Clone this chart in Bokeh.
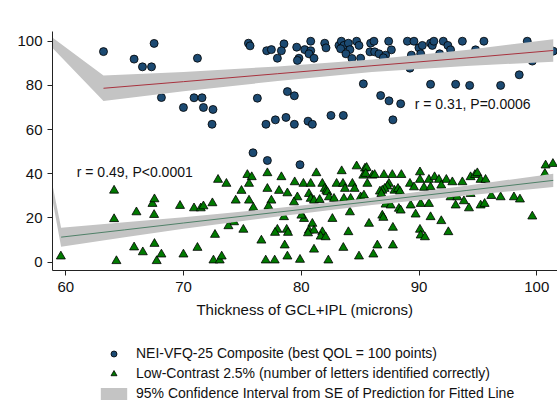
from bokeh.plotting import figure
from bokeh.layouts import column
from bokeh.models import Range1d, FixedTicker, Legend, LegendItem, Label
from bokeh.embed import file_html
from bokeh.resources import INLINE

FONT = "Liberation Sans"

# ---- data ----
vfq_x = [63.20, 65.80, 66.51, 67.28, 67.50, 71.18, 68.12, 69.99, 70.89, 71.57,
         75.51, 75.65, 77.06, 77.46, 78.53, 78.31, 77.97, 79.61, 80.80, 80.29,
         80.80, 80.65, 79.80, 79.67, 81.08, 81.99, 82.10, 83.20, 83.40, 83.62,
         83.34, 84.00, 84.13, 83.79, 84.30, 84.70, 84.90, 85.04, 85.89, 86.17,
         85.83, 86.23, 85.27, 86.74, 71.69, 72.50, 72.42, 76.27, 78.82, 79.41,
         77.00, 77.80, 78.70, 79.41, 80.57, 80.94, 82.52, 83.57, 87.42, 87.65,
         86.60, 87.16, 86.97, 89.01, 89.57, 89.99, 90.28, 90.14, 89.35, 90.98,
         91.13, 91.26, 92.06, 92.45, 92.68, 91.75, 93.68, 94.80, 95.51, 99.19,
         101.40, 99.62, 98.51, 96.93, 94.30, 93.11, 90.98, 87.45, 88.44, 87.78,
         89.23, 75.90, 77.12, 79.89]
vfq_y = [95.3, 91.9, 88.4, 88.4, 99.0, 92.3, 74.5, 70.0, 74.4, 74.4,
         99.1, 97.9, 95.7, 96.2, 98.8, 95.7, 92.3, 97.3, 100.0, 96.2,
         95.7, 94.3, 92.3, 91.3, 92.3, 99.1, 97.0, 98.1, 100.0, 98.1,
         96.6, 99.1, 96.2, 94.3, 92.2, 100.0, 98.1, 92.3, 99.1, 100.0,
         95.2, 95.2, 80.7, 75.4, 70.0, 69.1, 62.4, 74.2, 77.2, 75.3,
         62.4, 64.4, 65.5, 62.4, 63.8, 62.4, 66.4, 66.4, 100.0, 96.1,
         94.3, 93.7, 92.5, 100.0, 100.0, 97.0, 98.1, 94.3, 93.7, 99.1,
         98.1, 100.0, 100.0, 98.1, 96.1, 94.3, 100.0, 96.1, 100.0, 100.0,
         95.5, 91.0, 84.8, 80.0, 80.0, 80.5, 80.5, 73.0, 71.7, 64.4,
         87.8, 49.5, 46.0, 44.1]

lc_x = [59.58, 64.10, 64.10, 64.30, 66.00, 67.36, 67.53, 67.50, 65.80, 66.54,
        67.53, 67.72, 68.12, 69.70, 70.89, 71.46, 69.99, 71.18, 72.93, 73.64,
        74.92, 75.42, 75.79, 75.56, 77.12, 77.12, 78.31, 78.11, 78.82, 79.44,
        80.18, 80.80, 81.28, 81.79, 81.99, 82.13, 83.43, 83.00, 83.54, 83.71,
        84.34, 84.53, 84.70, 85.41, 85.27, 86.04, 85.61, 82.22, 80.65, 80.80,
        79.67, 79.38, 81.08, 81.56, 82.35, 82.78, 83.62, 84.19, 85.04, 74.43,
        75.56, 75.93, 77.46, 77.21, 71.69, 72.45, 74.29, 73.81, 75.08, 72.67,
        76.61, 77.97, 77.77, 78.76, 78.87, 78.53, 80.23, 80.94, 80.65, 81.08,
        80.57, 81.79, 81.65, 82.07, 82.64, 84.00, 84.13, 85.75, 86.46, 83.57,
        81.08, 78.59, 78.82, 79.89, 76.98, 77.74, 72.54, 73.07, 73.24, 82.30,
        84.90, 86.12, 80.01,
        85.55, 85.47, 86.23, 87.02, 87.73, 88.50, 87.44, 87.31, 87.08, 86.88,
        85.32, 86.68, 86.80, 87.91, 88.21, 88.38,
        94.38, 94.75, 94.95, 95.23, 95.65, 100.75, 101.37, 100.69, 90.08, 89.23,
        90.08, 90.84, 91.32, 91.69, 92.32, 92.83, 93.68, 89.57, 90.42, 90.98,
        91.89, 92.68, 93.25, 93.81, 94.38, 96.14, 96.93, 98.06, 98.57, 87.16,
        87.59, 88.29, 89.29, 90.14, 90.84, 93.11, 94.24, 95.23, 95.57, 86.88,
        89.71, 90.98, 91.89, 99.62, 87.78, 90.08, 90.14, 90.50, 92.49, 87.78,
        86.97, 88.44]
lc_y = [2.6, 32.4, 19.5, 0.5, 22.6, 26.4, 28.5, 21.4, 6.7, 4.5,
        8.3, 0.5, 3.5, 25.5, 24.4, 24.4, 3.5, 6.5, 37.3, 35.5,
        32.3, 39.5, 38.5, 35.5, 40.3, 33.2, 38.5, 32.3, 31.2, 36.2,
        35.5, 35.5, 40.3, 35.5, 33.2, 32.3, 41.2, 35.5, 35.5, 33.2,
        35.5, 33.2, 43.4, 42.4, 39.2, 39.2, 35.5, 31.7, 30.9, 28.7,
        29.4, 27.1, 27.9, 28.2, 29.4, 28.7, 28.7, 28.7, 29.4, 27.9,
        27.9, 24.6, 27.9, 25.2, 25.3, 26.7, 18.1, 16.3, 14.7, 12.4,
        9.8, 14.7, 13.3, 14.7, 13.3, 20.4, 19.6, 17.4, 14.3, 14.3,
        13.1, 13.6, 11.6, 11.3, 19.6, 13.6, 22.6, 17.4, 7.6, 6.5,
        5.7, 7.6, 2.6, 1.1, 0.8, 0.8, 0.8, 0.8, 2.6, 0.8,
        2.6, 3.5, 21.1,
        42.7, 40.0, 39.5, 39.5, 39.5, 39.5, 35.5, 34.3, 33.2, 32.4,
        30.2, 32.0, 30.9, 32.4, 33.2, 32.0,
        38.5, 39.5, 40.3, 37.3, 37.3, 43.8, 44.5, 40.0, 40.7, 35.5,
        37.3, 37.3, 38.5, 37.3, 37.3, 36.2, 36.2, 33.9, 33.7, 33.9,
        34.7, 29.4, 29.4, 27.6, 30.9, 30.0, 29.4, 29.4, 28.4, 26.1,
        25.7, 24.2, 25.7, 26.4, 26.4, 25.7, 24.4, 25.7, 26.4, 21.1,
        21.6, 20.4, 18.6, 20.7, 15.6, 14.7, 12.1, 11.3, 13.6, 7.6,
        20.1, 23.4]

# fitted lines
vfq_fit_x = [63.2, 70, 78, 86, 94, 101.4]
vfq_fit_y = [78.7, 81.7, 85.3, 88.9, 92.4, 95.8]
lc_fit_x = [59.6, 65, 70, 78, 86, 94, 101.4]
lc_fit_y = [11.3, 14.6, 17.7, 22.6, 27.5, 32.4, 37.0]

# confidence bands (first point: the stray vertex drawn in the original)
vfq_band_x = [55.9, 63.2, 70, 78, 86, 94, 101.4]
vfq_band_lo = [113.4, 72.9, 77.3, 82.0, 86.1, 88.8, 90.7]
vfq_band_hi = [113.4, 84.5, 86.1, 88.6, 91.7, 96.0, 100.9]
lc_band_x = [55.9, 59.6, 65, 70, 78, 86, 94, 101.4]
lc_band_lo = [113.4, 7.0, 11.2, 15.1, 20.7, 25.85, 30.2, 33.95]
lc_band_hi = [113.4, 15.6, 18.0, 20.3, 24.5, 29.15, 34.6, 40.05]

x_ticks = [60, 70, 80, 90, 100]
y_ticks = [0, 20, 40, 60, 80, 100]

ann_x = [89.63, 60.93]
ann_y = [71.8, 40.7]
ann_text = ["r = 0.31, P=0.0006", "r = 0.49, P<0.0001"]

labels = ["NEI-VFQ-25 Composite (best QOL = 100 points)",
          "Low-Contrast 2.5% (number of letters identified correctly)",
          "95% Confidence Interval from SE of Prediction for Fitted Line"]

BAND = "#c4c4c4"
BLUE = "#1c4a72"
GREEN = "#007a00"

p = figure(frame_width=505, frame_height=239, output_backend="svg", toolbar_location=None,
           x_range=Range1d(58.87, 101.76), y_range=Range1d(-3.8, 104.4),
           min_border_left=52, min_border_right=0, min_border_top=31,
           min_border_bottom=56)
p.outline_line_color = None
p.xgrid.visible = False
p.ygrid.visible = False
p.background_fill_color = "white"
p.border_fill_color = "white"

p.scatter(vfq_x, vfq_y, marker="circle", size=8, fill_color=BLUE,
          line_color="black", line_width=0.8)
p.scatter(lc_x, lc_y, marker="triangle", size=9, fill_color=GREEN,
          line_color="black", line_width=0.8)


def band_poly(bx, lo, hi):
    return list(bx) + list(bx)[::-1], list(hi) + list(lo)[::-1]


ux, uy = band_poly(vfq_band_x, vfq_band_lo, vfq_band_hi)
lx, ly = band_poly(lc_band_x, lc_band_lo, lc_band_hi)
p.patch(ux, uy, fill_color=BAND, line_color=None)
p.patch(lx, ly, fill_color=BAND, line_color=None)

p.line(vfq_fit_x, vfq_fit_y, line_color="#a8323e", line_width=1)
p.line(lc_fit_x, lc_fit_y, line_color="#4f8068", line_width=1)

for ax in (p.xaxis[0], p.yaxis[0]):
    ax.axis_line_color = "#222222"
    ax.major_tick_line_color = "#222222"
    ax.major_tick_out = 5
    ax.major_tick_in = 0
    ax.minor_tick_line_color = None
    ax.major_label_text_font = FONT
    ax.major_label_text_font_size = "15px"
    ax.major_label_text_color = "#111111"
p.xaxis.major_label_standoff = 6
p.yaxis.major_label_standoff = 5
p.xaxis.ticker = FixedTicker(ticks=x_ticks)
p.yaxis.ticker = FixedTicker(ticks=y_ticks)
p.xaxis.axis_label = "Thickness of GCL+IPL (microns)"
p.xaxis.axis_label_text_font = FONT
p.xaxis.axis_label_text_font_size = "15px"
p.xaxis.axis_label_text_font_style = "normal"
p.xaxis.axis_label_text_color = "#111111"
p.xaxis.axis_label_standoff = 6

for tx, ty, tt in zip(ann_x, ann_y, ann_text):
    p.add_layout(Label(x=tx, y=ty, text=tt, text_baseline="middle", text_align="left",
                       text_font=FONT, text_font_size="14px", text_color="#111111"))

# legend strip below the plot (its frame is aligned with the main frame)
p2 = figure(width=557, height=77, output_backend="svg", toolbar_location=None,
            x_range=Range1d(0, 1), y_range=Range1d(0, 1),
            x_axis_location=None, y_axis_location=None, min_border=0)
p2.outline_line_color = None
p2.xgrid.visible = False
p2.ygrid.visible = False
# legend proxies: the real series, which fall outside this strip's ranges
g1 = p2.scatter(vfq_x, vfq_y, marker="circle", size=8, fill_color=BLUE,
                line_color="black", line_width=0.8)
g2 = p2.scatter(lc_x, lc_y, marker="triangle", size=9, fill_color=GREEN,
                line_color="black", line_width=0.8)
g3 = p2.patch(ux, uy, fill_color=BAND, line_color=None)

legend = Legend(items=[LegendItem(label=labels[0], renderers=[g1]),
                       LegendItem(label=labels[1], renderers=[g2]),
                       LegendItem(label=labels[2], renderers=[g3])],
                location=(45, 2), orientation="vertical", padding=0, margin=0,
                spacing=4, glyph_width=33, glyph_height=15, label_standoff=6,
                label_height=15, label_text_font=FONT, label_text_font_size="14px",
                label_text_color="#111111", border_line_color=None,
                background_fill_alpha=0)
p2.add_layout(legend)

layout = column(p, p2, spacing=0)
open("out.html", "w").write(file_html(layout, INLINE))
